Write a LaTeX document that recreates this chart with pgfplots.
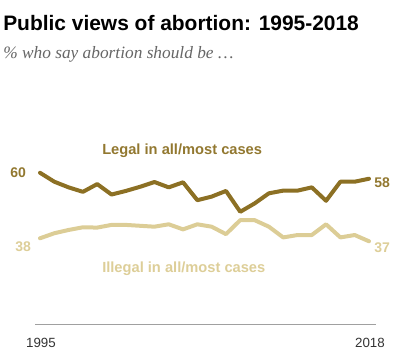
\documentclass[border=0pt]{standalone}
\usepackage{pgfplots}
\pgfplotsset{compat=1.18}
\usepackage{fontspec}
\setmainfont{Liberation Sans}
\newfontfamily\subfont{Liberation Serif}
\definecolor{legalc}{HTML}{8C7024}
\definecolor{legaltxt}{HTML}{927830}
\definecolor{illegalc}{HTML}{DCCD96}
\definecolor{illegaltxt}{HTML}{DDCE98}
\definecolor{subgray}{HTML}{666666}
\definecolor{axisgray}{HTML}{A0A0A0}
\begin{document}
\begin{tikzpicture}
\path (0pt,0pt) rectangle (400*0.75pt,362*0.75pt);
\begin{axis}[
  at={(40*0.75pt,37*0.75pt)}, anchor=south west,
  scale only axis, width=246.75pt, height=138.75pt,
  xmin=0, xmax=23, ymin=8.9, ymax=71.0,
  hide axis, clip=false,
]
\addplot[legalc, line width=3pt, line join=round, line cap=round] coordinates {
(0,60) (1,57.0) (2,55.1) (3,53.6) (4,56.2) (5,52.7) (6,53.9) (7,55.3)
(8,56.9) (9,55.1) (10,56.8) (11,50.8) (12,52.0) (13,53.9) (14,46.9) (15,49.7)
(16,53.1) (17,54.0) (18,54.0) (19,55.1) (20,50.6) (21,57.0) (22,57.0) (23,58)
};
\addplot[illegalc, line width=3pt, line join=round, line cap=round] coordinates {
(0,38) (1,39.7) (2,40.8) (3,41.7) (4,41.6) (5,42.5) (6,42.5) (7,42.2)
(8,41.9) (9,42.7) (10,41.0) (11,42.7) (12,41.9) (13,39.4) (14,44.1) (15,44.1)
(16,41.9) (17,38.3) (18,39.1) (19,39.1) (20,42.7) (21,38.3) (22,39.1) (23,37)
};
\end{axis}
% base line
\draw[axisgray, line width=1.2pt] (35*0.75pt,37.7*0.75pt) -- (376*0.75pt,37.7*0.75pt);
% title and subtitle
\node[anchor=base west, inner sep=0pt, font=\fontsize{15.7}{18}\selectfont\bfseries] at (3*0.75pt,332*0.75pt) {Public views of abortion: 1995-2018};
\node[anchor=base west, inner sep=0pt, text=subgray, font=\fontsize{13}{15}\subfont\itshape] at (3*0.75pt,304*0.75pt) {\% who say abortion should be \dots};
% series labels
\node[anchor=base west, inner sep=0pt, text=legaltxt, font=\fontsize{11}{13}\selectfont\bfseries] at (102*0.75pt,208*0.75pt) {Legal in all/most cases};
\node[anchor=base west, inner sep=0pt, text=illegaltxt, font=\fontsize{11}{13}\selectfont\bfseries] at (102*0.75pt,90*0.75pt) {Illegal in all/most cases};
% end values
\node[anchor=base west, inner sep=0pt, text=legaltxt, font=\fontsize{10.5}{12}\selectfont\bfseries] at (10*0.75pt,185*0.75pt) {60};
\node[anchor=base west, inner sep=0pt, text=illegaltxt, font=\fontsize{10.5}{12}\selectfont\bfseries] at (15*0.75pt,111*0.75pt) {38};
\node[anchor=base west, inner sep=0pt, text=legaltxt, font=\fontsize{10.5}{12}\selectfont\bfseries] at (374*0.75pt,175*0.75pt) {58};
\node[anchor=base west, inner sep=0pt, text=illegaltxt, font=\fontsize{10.5}{12}\selectfont\bfseries] at (374*0.75pt,110*0.75pt) {37};
% years
\node[anchor=base, inner sep=0pt, text=black!80, font=\fontsize{10}{12}\selectfont] at (41*0.75pt,15*0.75pt) {1995};
\node[anchor=base, inner sep=0pt, text=black!80, font=\fontsize{10}{12}\selectfont] at (370*0.75pt,15*0.75pt) {2018};
\end{tikzpicture}
\end{document}
